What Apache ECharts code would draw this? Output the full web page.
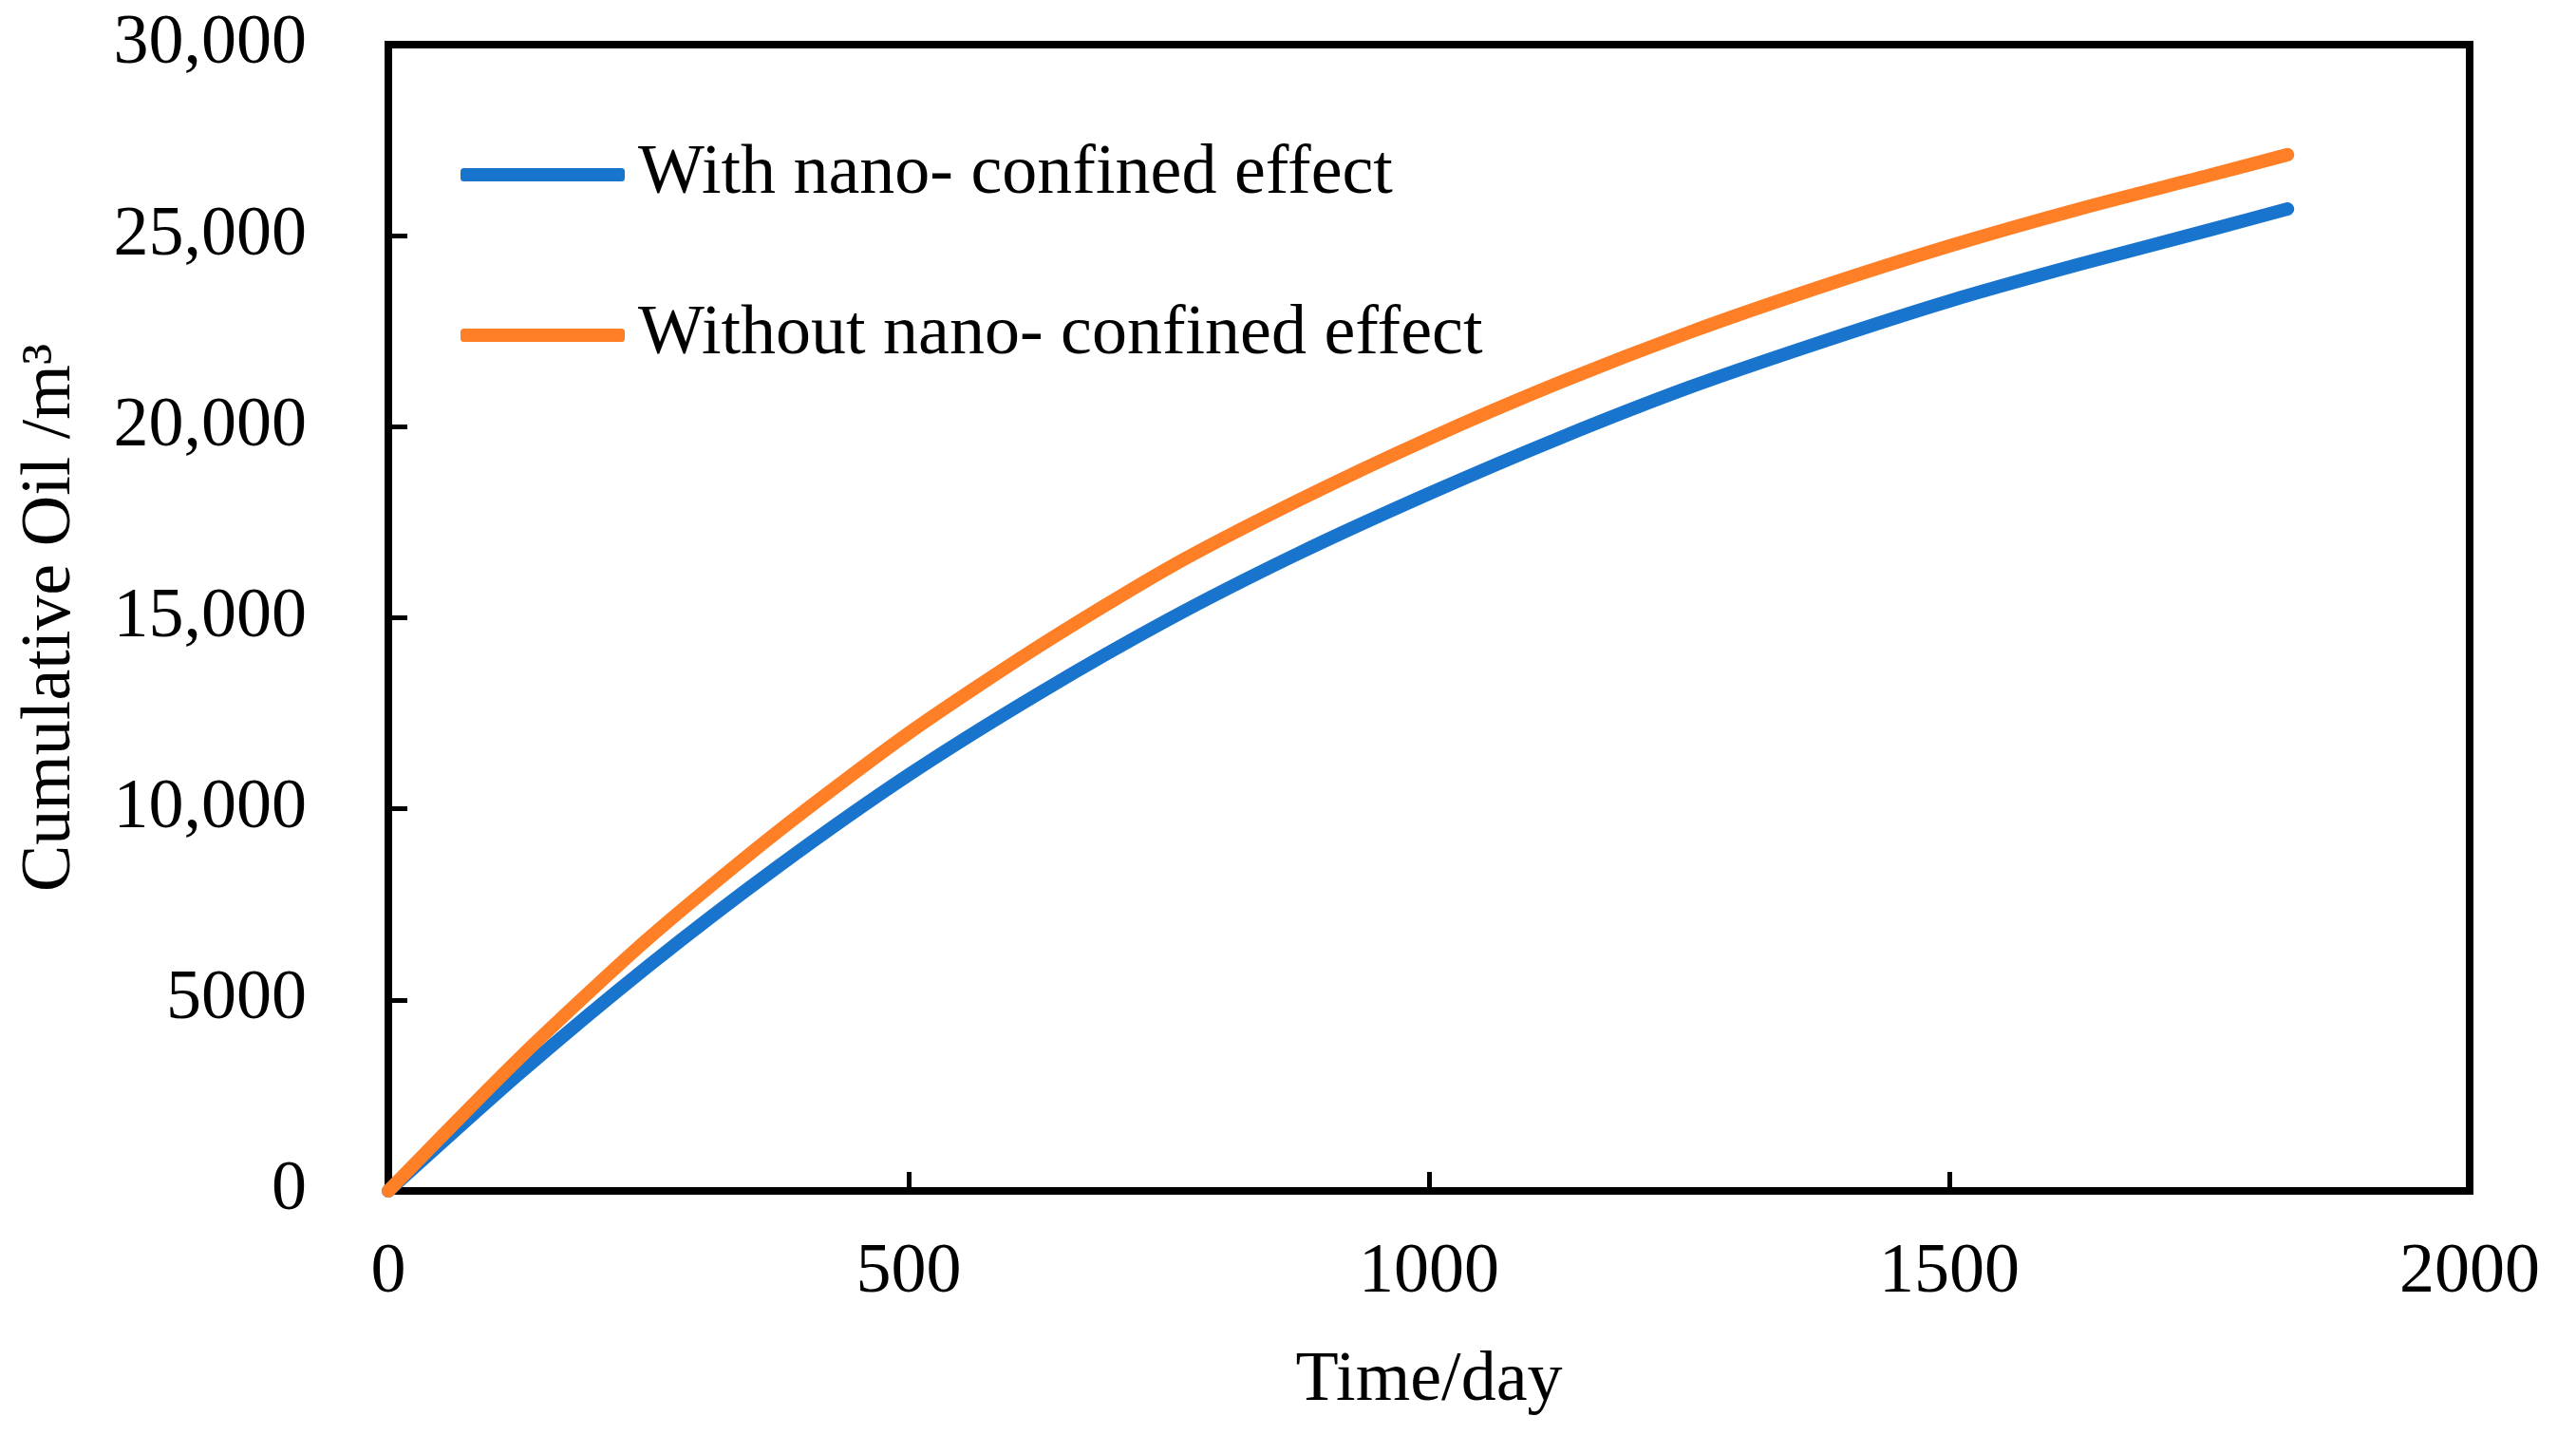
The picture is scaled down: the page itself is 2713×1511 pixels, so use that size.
<!DOCTYPE html>
<html>
<head>
<meta charset="utf-8">
<script src="https://cdn.jsdelivr.net/npm/echarts@6/dist/echarts.min.js"></script>
<style>
html,body{margin:0;padding:0;background:#fff;}
#chart{width:2713px;height:1511px;}
</style>
</head>
<body>
<div id="chart"></div>
<script>
const days = [0, 125, 250, 375, 500, 625, 750, 875, 1000, 1125, 1250, 1375, 1500, 1625, 1750, 1825];
const withNano = [0, 3050, 5890, 8500, 10890, 13020, 14960, 16690, 18250, 19700, 21030, 22200, 23290, 24250, 25150, 25700];
const withoutNano = [0, 3450, 6610, 9420, 11980, 14250, 16310, 18080, 19690, 21150, 22470, 23650, 24730, 25700, 26580, 27120];
const seriesNames = ['With nano- confined effect', 'Without nano- confined effect'];
const xTicks = [0, 500, 1000, 1500, 2000];
const yTicks = [0, 5000, 10000, 15000, 20000, 25000, 30000];

const FONT = '"Liberation Serif", "Times New Roman", serif';
const chart = echarts.init(document.getElementById('chart'));

function pairs(xs, ys){ return xs.map((x,i)=>[x, ys[i]]); }
function yFmt(v){ return v >= 10000 ? v.toLocaleString('en-US') : String(v); }

chart.setOption({
  animation: false,
  backgroundColor: '#fff',
  grid: {left: 409, right: 112, top: 47, bottom: 257, show: true, borderColor: '#000', borderWidth: 8},
  legend: {
    orient: 'vertical', left: 480, top: 139,
    itemWidth: 173, itemHeight: 14, itemGap: 89, icon: 'roundRect',
    textStyle: {fontFamily: FONT, fontSize: 74, color: '#000', lineHeight: 80, padding: [0,0,0,9]},
    data: seriesNames
  },
  xAxis: {
    type: 'value', min: xTicks[0], max: xTicks[xTicks.length-1], interval: 500,
    name: 'Time/day', nameLocation: 'middle', nameGap: 164,
    nameTextStyle: {fontFamily: FONT, fontSize: 74, color: '#000'},
    axisLine: {show: true, lineStyle: {color: '#000', width: 8}},
    axisTick: {show: true, inside: true, length: 20, lineStyle: {color: '#000', width: 5}},
    axisLabel: {fontFamily: FONT, fontSize: 74, color: '#000', margin: 50, formatter: v => String(v)},
    splitLine: {show: false}
  },
  yAxis: {
    type: 'value', min: yTicks[0], max: yTicks[yTicks.length-1], interval: 5000,
    name: 'Cumulative Oil /m\u00B3', nameLocation: 'middle', nameGap: 318, nameRotate: 90,
    nameTextStyle: {fontFamily: FONT, fontSize: 74, color: '#000'},
    axisLine: {show: true, lineStyle: {color: '#000', width: 8}},
    axisTick: {show: true, inside: true, length: 20, lineStyle: {color: '#000', width: 5}},
    axisLabel: {fontFamily: FONT, fontSize: 74, color: '#000', margin: 86, formatter: yFmt},
    splitLine: {show: false}
  },
  series: [
    {name: seriesNames[0], type: 'line', data: pairs(days, withNano), smooth: 0.25, showSymbol: false,
     color: '#1874CD', lineStyle: {width: 14, color: '#1874CD', cap: 'round'}},
    {name: seriesNames[1], type: 'line', data: pairs(days, withoutNano), smooth: 0.25, showSymbol: false,
     color: '#FF7F27', lineStyle: {width: 14, color: '#FF7F27', cap: 'round'}}
  ]
});
</script>
</body>
</html>
